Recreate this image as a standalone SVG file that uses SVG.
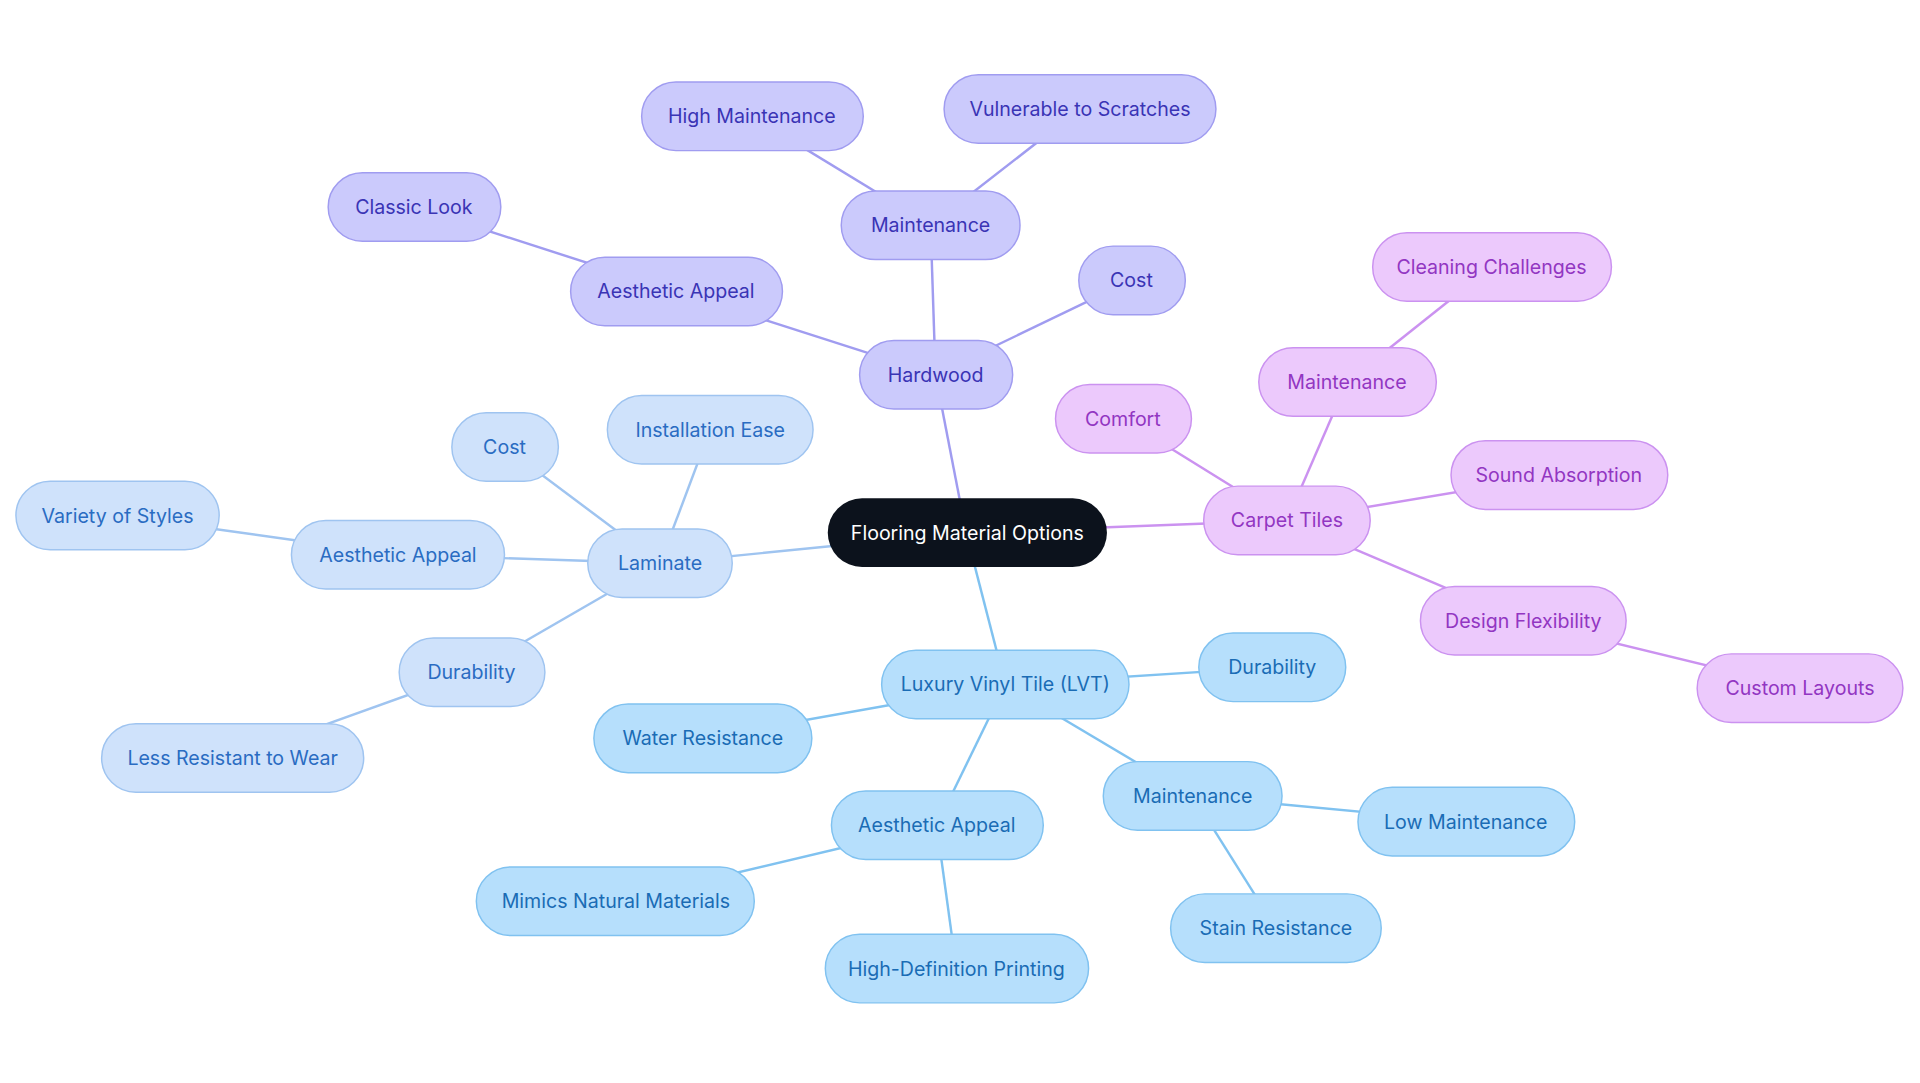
<svg xmlns="http://www.w3.org/2000/svg" width="1920" height="1083" viewBox="0 0 1920 1083">
<style>
text{font-family:Inter,"Noto Sans",sans-serif;font-size:16px;text-anchor:middle;dominant-baseline:central}
.h rect{fill:#cbcafc;stroke:#a09cf0;stroke-width:1.2}.h text{fill:#3a34b5}
.l rect{fill:#cfe2fb;stroke:#9fc4f0;stroke-width:1.2}.l text{fill:#2a6cc2}
.v rect{fill:#b6dffc;stroke:#80c2f0;stroke-width:1.2}.v text{fill:#1a6cb5}
.c rect{fill:#ecc9fc;stroke:#cb92f0;stroke-width:1.2}.c text{fill:#9236c2}
.e line{stroke-width:2}
</style>
<rect width="1920" height="1083" fill="#fff"/>
<g transform="scale(1.2245)">
<g id="connectors" class="e">
<g stroke="#a09cf0"><line x1="789" y1="435" x2="764" y2="306"/><line x1="764" y1="306" x2="760" y2="184"/><line x1="760" y1="184" x2="614" y2="95"/><line x1="760" y1="184" x2="882" y2="89"/><line x1="764" y1="306" x2="924" y2="229"/><line x1="764" y1="306" x2="552" y2="238"/><line x1="552" y1="238" x2="338" y2="169"/></g>
<g stroke="#9fc4f0"><line x1="789" y1="435" x2="539" y2="460"/><line x1="539" y1="460" x2="580" y2="351"/><line x1="539" y1="460" x2="412" y2="365"/><line x1="539" y1="460" x2="325" y2="453"/><line x1="325" y1="453" x2="96" y2="421"/><line x1="539" y1="460" x2="385" y2="549"/><line x1="385" y1="549" x2="190" y2="619"/></g>
<g stroke="#80c2f0"><line x1="789" y1="435" x2="821" y2="559"/><line x1="821" y1="559" x2="1039" y2="545"/><line x1="821" y1="559" x2="574" y2="603"/><line x1="821" y1="559" x2="765" y2="674"/><line x1="765" y1="674" x2="503" y2="736"/><line x1="765" y1="674" x2="781" y2="791"/><line x1="821" y1="559" x2="974" y2="650"/><line x1="974" y1="650" x2="1197" y2="671"/><line x1="974" y1="650" x2="1042" y2="758"/></g>
<g stroke="#cb92f0"><line x1="789" y1="435" x2="1051" y2="425"/><line x1="1051" y1="425" x2="917" y2="342"/><line x1="1051" y1="425" x2="1100" y2="312"/><line x1="1100" y1="312" x2="1218" y2="218"/><line x1="1051" y1="425" x2="1273" y2="388"/><line x1="1051" y1="425" x2="1244" y2="507"/><line x1="1244" y1="507" x2="1470" y2="562"/></g>
</g>
<g id="center"><rect x="676" y="407" width="228" height="56" rx="28" fill="#0c121c"/><text x="790" y="435" fill="#fff">Flooring Material Options</text></g>
<g id="hardwood" class="h"><rect x="702" y="278" width="125" height="56" rx="28"/><text x="764" y="306">Hardwood</text></g>
<g id="h-maint" class="h"><rect x="687" y="156" width="146" height="56" rx="28"/><text x="760" y="184">Maintenance</text></g>
<g id="h-high" class="h"><rect x="524" y="67" width="181" height="56" rx="28"/><text x="614" y="95">High Maintenance</text></g>
<g id="h-vuln" class="h"><rect x="771" y="61" width="222" height="56" rx="28"/><text x="882" y="89">Vulnerable to Scratches</text></g>
<g id="h-cost" class="h"><rect x="881" y="201" width="87" height="56" rx="28"/><text x="924" y="229">Cost</text></g>
<g id="h-aes" class="h"><rect x="466" y="210" width="173" height="56" rx="28"/><text x="552" y="238">Aesthetic Appeal</text></g>
<g id="h-classic" class="h"><rect x="268" y="141" width="141" height="56" rx="28"/><text x="338" y="169">Classic Look</text></g>
<g id="laminate" class="l"><rect x="480" y="432" width="118" height="56" rx="28"/><text x="539" y="460">Laminate</text></g>
<g id="l-inst" class="l"><rect x="496" y="323" width="168" height="56" rx="28"/><text x="580" y="351">Installation Ease</text></g>
<g id="l-cost" class="l"><rect x="369" y="337" width="87" height="56" rx="28"/><text x="412" y="365">Cost</text></g>
<g id="l-aes" class="l"><rect x="238" y="425" width="174" height="56" rx="28"/><text x="325" y="453">Aesthetic Appeal</text></g>
<g id="l-var" class="l"><rect x="13" y="393" width="166" height="56" rx="28"/><text x="96" y="421">Variety of Styles</text></g>
<g id="l-dur" class="l"><rect x="326" y="521" width="119" height="56" rx="28"/><text x="385" y="549">Durability</text></g>
<g id="l-less" class="l"><rect x="83" y="591" width="214" height="56" rx="28"/><text x="190" y="619">Less Resistant to Wear</text></g>
<g id="lvt" class="v"><rect x="720" y="531" width="202" height="56" rx="28"/><text x="821" y="559">Luxury Vinyl Tile (LVT)</text></g>
<g id="v-dur" class="v"><rect x="979" y="517" width="120" height="56" rx="28"/><text x="1039" y="545">Durability</text></g>
<g id="v-water" class="v"><rect x="485" y="575" width="178" height="56" rx="28"/><text x="574" y="603">Water Resistance</text></g>
<g id="v-aes" class="v"><rect x="679" y="646" width="173" height="56" rx="28"/><text x="765" y="674">Aesthetic Appeal</text></g>
<g id="v-mimic" class="v"><rect x="389" y="708" width="227" height="56" rx="28"/><text x="503" y="736">Mimics Natural Materials</text></g>
<g id="v-hd" class="v"><rect x="674" y="763" width="215" height="56" rx="28"/><text x="781" y="791">High-Definition Printing</text></g>
<g id="v-maint" class="v"><rect x="901" y="622" width="146" height="56" rx="28"/><text x="974" y="650">Maintenance</text></g>
<g id="v-low" class="v"><rect x="1109" y="643" width="177" height="56" rx="28"/><text x="1197" y="671">Low Maintenance</text></g>
<g id="v-stain" class="v"><rect x="956" y="730" width="172" height="56" rx="28"/><text x="1042" y="758">Stain Resistance</text></g>
<g id="carpet" class="c"><rect x="983" y="397" width="136" height="56" rx="28"/><text x="1051" y="425">Carpet Tiles</text></g>
<g id="c-comfort" class="c"><rect x="862" y="314" width="111" height="56" rx="28"/><text x="917" y="342">Comfort</text></g>
<g id="c-maint" class="c"><rect x="1028" y="284" width="145" height="56" rx="28"/><text x="1100" y="312">Maintenance</text></g>
<g id="c-clean" class="c"><rect x="1121" y="190" width="195" height="56" rx="28"/><text x="1218" y="218">Cleaning Challenges</text></g>
<g id="c-sound" class="c"><rect x="1185" y="360" width="177" height="56" rx="28"/><text x="1273" y="388">Sound Absorption</text></g>
<g id="c-design" class="c"><rect x="1160" y="479" width="168" height="56" rx="28"/><text x="1244" y="507">Design Flexibility</text></g>
<g id="c-custom" class="c"><rect x="1386" y="534" width="168" height="56" rx="28"/><text x="1470" y="562">Custom Layouts</text></g>
</g>
</svg>
